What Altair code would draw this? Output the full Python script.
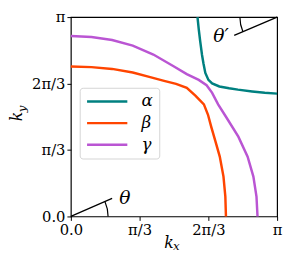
import altair as alt
import pandas as pd

# ---- data (k in units of pi) ----
alpha_kx = [0.614, 0.620, 0.627, 0.636, 0.643, 0.652, 0.667, 0.685, 0.720, 0.767, 0.810, 0.879, 0.940, 1.000]
alpha_ky = [1.000, 0.940, 0.879, 0.810, 0.767, 0.720, 0.685, 0.667, 0.652, 0.643, 0.636, 0.627, 0.620, 0.616]

beta_kx = [0.000, 0.100, 0.200, 0.300, 0.380, 0.452, 0.510, 0.562, 0.605, 0.645, 0.665, 0.680, 0.700, 0.722, 0.740, 0.749, 0.752]
beta_ky = [0.752, 0.749, 0.740, 0.722, 0.700, 0.680, 0.665, 0.645, 0.605, 0.562, 0.510, 0.452, 0.380, 0.300, 0.200, 0.100, 0.000]

gamma_kx = [0.000, 0.100, 0.200, 0.300, 0.400, 0.500, 0.562, 0.620, 0.658, 0.685, 0.714, 0.752, 0.812, 0.857, 0.885, 0.900, 0.905]
gamma_ky = [0.905, 0.900, 0.885, 0.857, 0.812, 0.752, 0.714, 0.685, 0.658, 0.620, 0.562, 0.500, 0.400, 0.300, 0.200, 0.100, 0.000]

series_names = ["α", "β", "γ"]
series_colors = ["#008080", "#ff4500", "#ba55d3"]

tick_vals = [0.0, 1 / 3, 2 / 3, 1.0]
tick_labels = ["0.0", "π/3", "2π/3", "π"]

# angle markers
theta_line_kx = [0.0, 0.200]
theta_line_ky = [0.0, 0.0905]
thetap_line_kx = [1.0, 0.792]
thetap_line_ky = [1.0, 0.908]
angle_labels = ["θ", "θ′"]
angle_label_kx = [0.262, 0.728]
angle_label_ky = [0.092, 0.905]

# ---- tables ----
rows = []
for name, xs_, ys_ in zip(series_names, [alpha_kx, beta_kx, gamma_kx], [alpha_ky, beta_ky, gamma_ky]):
    for i, (a, b) in enumerate(zip(xs_, ys_)):
        rows.append({"band": name, "kx": a, "ky": b, "i": i})
curves = pd.DataFrame(rows)

seg_rows = []
for sid, xs_, ys_ in [("t", theta_line_kx, theta_line_ky), ("tp", thetap_line_kx, thetap_line_ky)]:
    for i, (a, b) in enumerate(zip(xs_, ys_)):
        seg_rows.append({"seg": sid, "kx": a, "ky": b, "i": i})
segs = pd.DataFrame(seg_rows)

alabels = pd.DataFrame({"t": angle_labels, "kx": angle_label_kx, "ky": angle_label_ky})

W, H = 210, 203
serif = "DejaVu Serif"

xs = alt.Scale(domain=[0, 1], nice=False, zero=False)
ys = alt.Scale(domain=[0, 1], nice=False, zero=False)

# label expression built from tick lists
expr = "'" + tick_labels[-1] + "'"
for k in range(len(tick_vals) - 2, -1, -1):
    thr = (tick_vals[k] + tick_vals[k + 1]) / 2
    expr = f"datum.value < {thr:.4f} ? '{tick_labels[k]}' : ({expr})"

axis_common = dict(
    values=tick_vals, labelExpr=expr, title=None, grid=False, domain=False,
    tickColor="black", tickSize=4, tickWidth=1, labelFont=serif, labelFontSize=15,
    labelColor="black", labelFlush=False, labelOverlap=False, labelBound=False,
    labelPadding=2,
)

lines = alt.Chart(curves).mark_line(strokeWidth=2.5).encode(
    x=alt.X("kx:Q", scale=xs, axis=alt.Axis(**axis_common)),
    y=alt.Y("ky:Q", scale=ys, axis=alt.Axis(**axis_common)),
    color=alt.Color(
        "band:N",
        scale=alt.Scale(domain=series_names, range=series_colors),
        legend=alt.Legend(
            title=None, orient="none", legendX=9, legendY=72,
            symbolType="stroke", symbolSize=1681, symbolStrokeWidth=2.5,
            clipHeight=16, rowPadding=5, padding=6, labelOffset=13,
            labelFont=serif, labelFontSize=17, labelFontStyle="italic",
            labelExpr="datum.label + '\u2003'",
            fillColor="white", strokeColor="#d4d4d4", cornerRadius=3,
        ),
    ),
    order="i:Q",
)

seg_chart = alt.Chart(segs).mark_line(color="black", strokeWidth=1.3).encode(
    x=alt.X("kx:Q", scale=xs), y=alt.Y("ky:Q", scale=ys), detail="seg:N", order="i:Q"
)

arc1 = alt.Chart(pd.DataFrame({"kx": [theta_line_kx[0]], "ky": [theta_line_ky[0]]})).mark_arc(
    color="black", radius=38.5, radius2=37.3, theta=1.155, theta2=1.5708
).encode(x=alt.X("kx:Q", scale=xs), y=alt.Y("ky:Q", scale=ys))

arc2 = alt.Chart(pd.DataFrame({"kx": [thetap_line_kx[0]], "ky": [thetap_line_ky[0]]})).mark_arc(
    color="black", radius=38.5, radius2=37.3, theta=4.306, theta2=4.7124
).encode(x=alt.X("kx:Q", scale=xs), y=alt.Y("ky:Q", scale=ys))

alab = alt.Chart(alabels).mark_text(
    font=serif, fontSize=19, fontStyle="italic", color="black", align="center", baseline="middle"
).encode(x=alt.X("kx:Q", scale=xs), y=alt.Y("ky:Q", scale=ys), text="t:N")

title_df = pd.DataFrame({"a": [0]})
kx_k = alt.Chart(title_df).mark_text(text="k", font=serif, fontSize=16, fontStyle="italic",
                                     align="left", baseline="alphabetic", color="black").encode(
    x=alt.value(95), y=alt.value(235))
kx_s = alt.Chart(title_df).mark_text(text="x", font=serif, fontSize=12, fontStyle="italic",
                                     align="left", baseline="alphabetic", color="black").encode(
    x=alt.value(104), y=alt.value(237))
ky_k = alt.Chart(title_df).mark_text(text="k", font=serif, fontSize=16, fontStyle="italic", angle=270,
                                     align="left", baseline="alphabetic", color="black").encode(
    x=alt.value(-50), y=alt.value(106))
ky_s = alt.Chart(title_df).mark_text(text="y", font=serif, fontSize=12, fontStyle="italic", angle=270,
                                     align="left", baseline="alphabetic", color="black").encode(
    x=alt.value(-46), y=alt.value(97))

chart = alt.layer(lines, seg_chart, arc1, arc2, alab, kx_k, kx_s, ky_k, ky_s).properties(
    width=W, height=H,
    autosize=alt.AutoSizeParams(type="none"),
    padding={"left": 64, "top": 7, "right": 6, "bottom": 36},
).configure_view(stroke="black", strokeWidth=1.2)

chart.save("out.html", embed_options={"renderer": "svg", "actions": False})
